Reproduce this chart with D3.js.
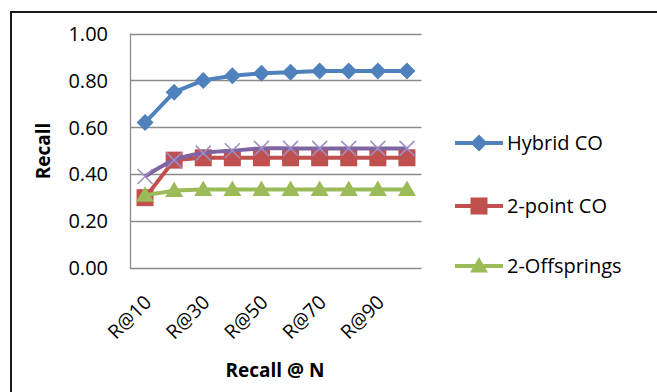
<!DOCTYPE html>
<html>
<head>
<meta charset="utf-8">
<script src="https://cdn.jsdelivr.net/npm/d3@7"></script>
<style>
  body { margin: 0; background: #fff; }
  text { font-family: "Open Sans", sans-serif; fill: #000; }
</style>
</head>
<body>
<div id="chart"></div>
<script>
var width = 657;
var height = 392;

// categories and series
var categories = ["R@10", "R@20", "R@30", "R@40", "R@50", "R@60", "R@70", "R@80", "R@90", "R@100"];
var hybridCO = [0.62, 0.75, 0.80, 0.82, 0.83, 0.835, 0.84, 0.84, 0.84, 0.84];
var twoPointCO = [0.30, 0.46, 0.47, 0.47, 0.47, 0.47, 0.47, 0.47, 0.47, 0.47];
var twoOffsprings = [0.31, 0.33, 0.335, 0.335, 0.335, 0.335, 0.335, 0.335, 0.335, 0.335];
var fourth = [0.39, 0.46, 0.49, 0.50, 0.51, 0.51, 0.51, 0.51, 0.51, 0.51];
var yTicks = [0, 0.2, 0.4, 0.6, 0.8, 1.0];

var svg = d3.select("#chart").append("svg")
    .attr("width", width)
    .attr("height", height);

// outer chart border (runs off right and bottom)
svg.append("path")
    .attr("d", "M11,400V12H670")
    .attr("fill", "none")
    .attr("stroke", "#1a1a1a")
    .attr("stroke-width", 2);

var x = d3.scaleBand().domain(categories).range([130.5, 421.5]);
var y = d3.scaleLinear().domain([0, 1]).range([268, 33.5]);

// gridlines
svg.append("g")
    .selectAll("line")
    .data(yTicks.slice(1))
    .enter()
    .append("line")
    .attr("x1", 130.5).attr("x2", 421.5)
    .attr("y1", function(d) { return Math.round(y(d)) + 0.5; })
    .attr("y2", function(d) { return Math.round(y(d)) + 0.5; })
    .attr("stroke", "#8c8c8c")
    .attr("stroke-width", 1.3);

// axis lines
svg.append("path")
    .attr("d", "M130.5," + y(1) + "V" + (y(0) + 0.5) + "H421.5")
    .attr("fill", "none")
    .attr("stroke", "#8c8c8c")
    .attr("stroke-width", 1.3);

// y tick labels
svg.append("g")
    .selectAll("text")
    .data(yTicks)
    .enter()
    .append("text")
    .attr("x", 108)
    .attr("y", function(d) { return y(d); })
    .attr("dy", "0.36em")
    .attr("text-anchor", "end")
    .style("font-size", "20px")
    .text(function(d) { return d3.format(".2f")(d); });

// x tick labels, every other category
svg.append("g")
    .selectAll("text")
    .data(categories.filter(function(d, i) { return i % 2 === 0; }))
    .enter()
    .append("text")
    .attr("transform", function(d) {
        var cx = x(d) + x.bandwidth() / 2;
        return "translate(" + (cx - 2) + ",294) rotate(-45)";
    })
    .attr("text-anchor", "end")
    .attr("dy", "0.7em")
    .style("font-size", "19.5px")
    .text(function(d) { return d; });

// axis titles
svg.append("text")
    .attr("x", 275)
    .attr("y", 377)
    .attr("text-anchor", "middle")
    .style("font-size", "19px")
    .style("font-weight", "bold")
    .text("Recall @ N");

svg.append("text")
    .attr("transform", "translate(50,151) rotate(-90)")
    .attr("text-anchor", "middle")
    .style("font-size", "19px")
    .style("font-weight", "bold")
    .text("Recall");

var series = [
    { name: "Hybrid CO", values: hybridCO, color: "#4F81BD", marker: "diamond", legend: true },
    { name: "2-point CO", values: twoPointCO, color: "#C0504D", marker: "square", legend: true },
    { name: "2-Offsprings", values: twoOffsprings, color: "#9BBB59", marker: "triangle", legend: true },
    { name: "", values: fourth, color: "#8064A2", marker: "x", legend: false, smooth: true }
];

function drawMarker(g, type, color) {
    if (type === "diamond") {
        g.append("path").attr("d", "M0,-8.5L8.5,0L0,8.5L-8.5,0Z").attr("fill", color);
    } else if (type === "square") {
        g.append("rect").attr("x", -8.5).attr("y", -8.5).attr("width", 17).attr("height", 17)
            .attr("fill", color);
    } else if (type === "triangle") {
        g.append("path").attr("d", "M0,-9L9,6.5H-9Z").attr("fill", color);
    } else if (type === "x") {
        g.append("path").attr("d", "M-7.5,-7.5L7.5,7.5M-7.5,7.5L7.5,-7.5")
            .attr("stroke", "#9f8cc4").attr("stroke-width", 1.5).attr("fill", "none");
    }
}

var cxOf = function(i) { return x(categories[i]) + x.bandwidth() / 2; };

series.forEach(function(s) {
    var line = d3.line()
        .x(function(d, i) { return cxOf(i); })
        .y(function(d) { return y(d); })
        .curve(s.smooth ? d3.curveCatmullRom.alpha(0.5) : d3.curveLinear);

    svg.append("path")
        .datum(s.values)
        .attr("d", line)
        .attr("fill", "none")
        .attr("stroke", s.color)
        .attr("stroke-width", 4)
        .attr("stroke-linejoin", "round");

    svg.append("g")
        .selectAll("g")
        .data(s.values)
        .enter()
        .append("g")
        .attr("transform", function(d, i) { return "translate(" + cxOf(i) + "," + y(d) + ")"; })
        .each(function() { drawMarker(d3.select(this), s.marker, s.color); });
});

// legend
var legend = svg.append("g")
    .selectAll("g")
    .data(series.filter(function(s) { return s.legend; }))
    .enter()
    .append("g")
    .attr("transform", function(d, i) { return "translate(0," + [143, 206, 266][i] + ")"; });

legend.append("line")
    .attr("x1", 455).attr("x2", 503)
    .attr("stroke", function(d) { return d.color; })
    .attr("stroke-width", 4);

legend.append("g")
    .attr("transform", "translate(479,0)")
    .each(function(d) { drawMarker(d3.select(this), d.marker, d.color); });

legend.append("text")
    .attr("x", 507)
    .attr("dy", "0.36em")
    .style("font-size", "20px")
    .text(function(d) { return d.name; });
</script>
</body>
</html>
